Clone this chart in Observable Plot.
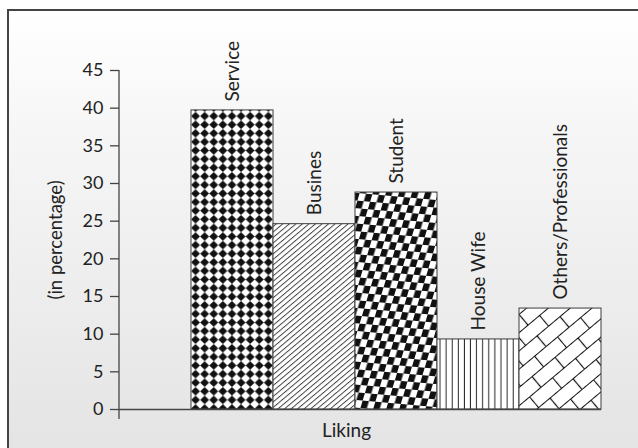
<!DOCTYPE html>
<html>
<head>
<meta charset="utf-8">
<script src="https://cdn.jsdelivr.net/npm/d3@7"></script>
<script src="https://cdn.jsdelivr.net/npm/@observablehq/plot@0.6"></script>
<style>
  html, body { margin: 0; padding: 0; overflow: hidden; background: #fff; }
  #page { position: relative; width: 638px; height: 448px; overflow: hidden; }
  #panel {
    position: absolute; left: 7px; top: 9px; width: 700px; height: 520px;
    border: 2px solid #444;
    background: linear-gradient(to bottom, #ffffff 0px, #f6f6f6 120px, #ececec 300px, #e4e4e4 439px);
  }
  #chart { position: absolute; left: 0; top: 0; }
  #chart g[aria-label="y-axis tick label"] { font-size: 18px; }
</style>
</head>
<body>
<div id="page">
  <div id="panel"></div>
  <div id="chart"></div>
</div>
<script>
// Respondent occupations and their share (in percentage)
const categories = ["Service", "Busines", "Student", "House Wife", "Others/Professionals"];
const percentages = [39.7, 24.6, 28.8, 9.3, 13.4];
const yTicks = [0, 5, 10, 15, 20, 25, 30, 35, 40, 45];
const yLabel = "(in percentage)";
const xLabel = "Liking";

// One fill pattern per occupation
const patternIds = ["pat-diamond", "pat-hatch", "pat-checker", "pat-vlines", "pat-brick"];

const rows = categories.map((c, i) => ({category: c, value: percentages[i], fill: `url(#${patternIds[i]})`}));

// Pattern definitions injected into the plot's SVG
function patternDefs() {
  const defs = d3.create("svg:defs");

  // black diamonds on white
  const p1 = defs.append("pattern").attr("id", "pat-diamond").attr("patternUnits", "userSpaceOnUse")
    .attr("x", 191).attr("y", 0).attr("width", 9.1).attr("height", 8.6);
  p1.append("rect").attr("width", 9.1).attr("height", 8.6).attr("fill", "#fff");
  p1.append("path").attr("d", "M4.55,0.1L9.0,4.3L4.55,8.5L0.1,4.3Z").attr("fill", "#111");

  // fine diagonal hatching
  const p2 = defs.append("pattern").attr("id", "pat-hatch").attr("patternUnits", "userSpaceOnUse")
    .attr("width", 4.2).attr("height", 10).attr("patternTransform", "rotate(50)");
  p2.append("rect").attr("width", 4.2).attr("height", 10).attr("fill", "#fff");
  p2.append("line").attr("x1", 0.5).attr("x2", 0.5).attr("y1", 0).attr("y2", 10)
    .attr("stroke", "#333").attr("stroke-width", 0.9);

  // lightly sheared checkerboard
  const p3 = defs.append("pattern").attr("id", "pat-checker").attr("patternUnits", "userSpaceOnUse")
    .attr("width", 13).attr("height", 15).attr("patternTransform", "skewX(-12) rotate(5)");
  p3.append("rect").attr("width", 13).attr("height", 15).attr("fill", "#fff");
  p3.append("rect").attr("width", 6.5).attr("height", 7.5).attr("fill", "#111");
  p3.append("rect").attr("x", 6.5).attr("y", 7.5).attr("width", 6.5).attr("height", 7.5).attr("fill", "#111");

  // vertical lines
  const p4 = defs.append("pattern").attr("id", "pat-vlines").attr("patternUnits", "userSpaceOnUse")
    .attr("x", 437).attr("width", 6.1).attr("height", 10);
  p4.append("rect").attr("width", 6.1).attr("height", 10).attr("fill", "#fff");
  p4.append("line").attr("x1", 3).attr("x2", 3).attr("y1", 0).attr("y2", 10)
    .attr("stroke", "#222").attr("stroke-width", 1);

  // diagonal brick wall
  const bw = 30, bh = 14;
  const p5 = defs.append("pattern").attr("id", "pat-brick").attr("patternUnits", "userSpaceOnUse")
    .attr("width", bw).attr("height", 2 * bh).attr("patternTransform", "rotate(-40)");
  p5.append("rect").attr("width", bw).attr("height", 2 * bh).attr("fill", "#fff");
  p5.append("path")
    .attr("d", `M0,0.5H${bw}M0,${bh + 0.5}H${bw}M0.5,0V${bh}M${bw / 2 + 0.5},${bh}V${2 * bh}`)
    .attr("stroke", "#111").attr("stroke-width", 1.2).attr("fill", "none");

  return defs.node();
}

// Vertical axis line, running a little below zero like the tick marks
function yAxisLine(index, scales, values, dimensions) {
  const {marginLeft, height, marginBottom} = dimensions;
  const g = d3.create("svg:g");
  g.append("line")
    .attr("x1", marginLeft).attr("x2", marginLeft)
    .attr("y1", scales.y(d3.max(yTicks))).attr("y2", height - marginBottom)
    .attr("stroke", "#444").attr("stroke-width", 1.3);
  return g.node();
}

const chart = Plot.plot({
  width: 638,
  height: 448,
  marginLeft: 119,
  marginRight: 37,
  marginTop: 70,
  marginBottom: 29,
  style: {background: "transparent", fontFamily: "Lato, 'DejaVu Sans', sans-serif", fontSize: "18px", color: "#222"},
  x: {domain: categories, paddingInner: 0, paddingOuter: 0.439, align: 1, axis: null},
  y: {domain: [0, 45], insetBottom: 10, axis: null},
  color: {type: "identity"},
  marks: [
    patternDefs,
    Plot.barY(rows, {x: "category", y: "value", fill: "fill", stroke: "#3c3c3c", strokeWidth: 1}),
    Plot.ruleY([0], {stroke: "#444", strokeWidth: 1.3}),
    yAxisLine,
    Plot.axisY({ticks: yTicks, tickSize: 9, tickPadding: 7, label: null, fontSize: 18, stroke: "#444", strokeWidth: 1.3}),
    Plot.text(rows, {x: "category", y: "value", text: "category", rotate: -90, textAnchor: "start", lineAnchor: "middle", dy: -9, fontSize: 19}),
    Plot.text([yLabel], {text: d => d, frameAnchor: "left", rotate: -90, textAnchor: "middle", lineAnchor: "middle", dx: -63, dy: -5, fontSize: 18.5}),
    Plot.text([xLabel], {text: d => d, frameAnchor: "bottom", lineAnchor: "middle", dx: -14, dy: 11, fontSize: 19})
  ]
});

document.getElementById("chart").appendChild(chart);
</script>
</body>
</html>
